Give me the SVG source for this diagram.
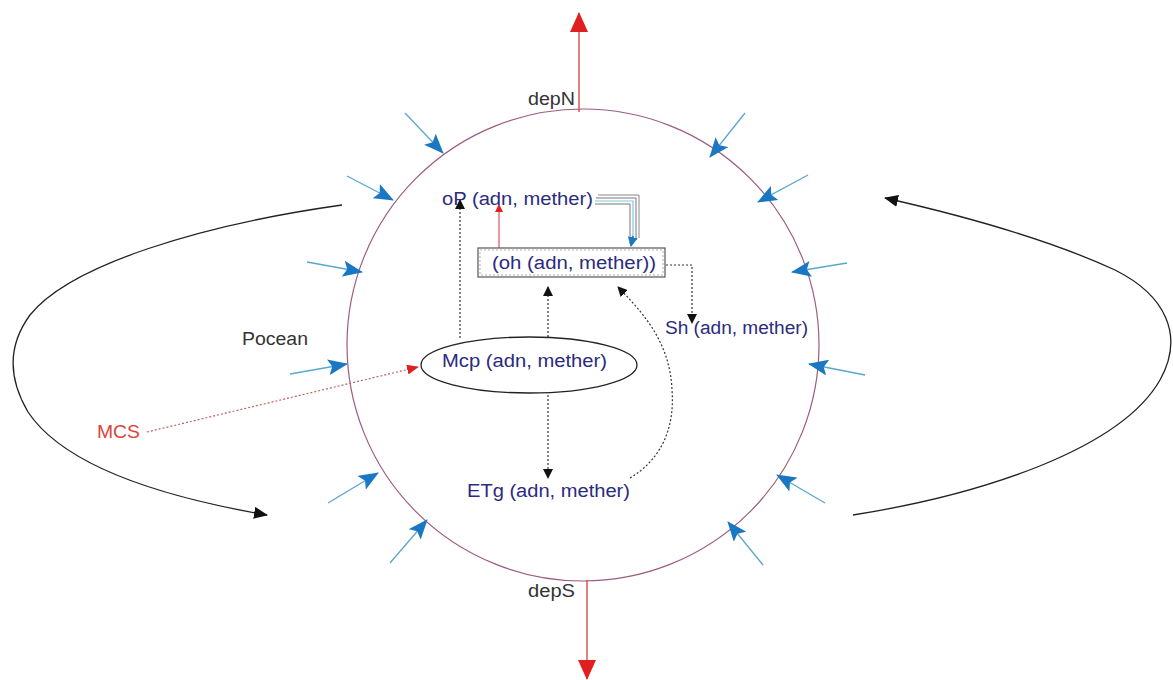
<svg xmlns="http://www.w3.org/2000/svg" width="1173" height="680" viewBox="0 0 1173 680">
<style>
text{font-family:"Liberation Sans",Arial,sans-serif;}
.lbl{fill:#2b2b80;font-size:18px;}
.dk{fill:#333;font-size:18px;}
.blue{stroke:#5aa6cc;stroke-width:1.3;fill:none;marker-end:url(#bl);}
.dot{stroke:#333;stroke-width:1.2;stroke-dasharray:2 2;fill:none;marker-end:url(#bk);}
.curve{stroke:#222;stroke-width:1.3;fill:none;marker-end:url(#bk2);}
</style>
<defs>
<marker id="bl" markerUnits="userSpaceOnUse" markerWidth="20" markerHeight="16" viewBox="0 0 20 16" refX="19" refY="8" orient="auto"><path d="M0,0 L20,8 L0,16 L4,8 z" fill="#1a78c2"/></marker>
<marker id="bk" markerUnits="userSpaceOnUse" markerWidth="10" markerHeight="10" viewBox="0 0 10 10" refX="9" refY="5" orient="auto"><path d="M0,0 L10,5 L0,10 z" fill="#111"/></marker>
<marker id="bk2" markerUnits="userSpaceOnUse" markerWidth="14" markerHeight="12" viewBox="0 0 14 12" refX="13" refY="6" orient="auto"><path d="M0,0 L14,6 L0,12 z" fill="#111"/></marker>
<marker id="rd" markerUnits="userSpaceOnUse" markerWidth="20" markerHeight="18" viewBox="0 0 20 18" refX="19" refY="9" orient="auto"><path d="M0,0 L20,9 L0,18 z" fill="#e02020"/></marker>
<marker id="rds" markerUnits="userSpaceOnUse" markerWidth="12" markerHeight="10" viewBox="0 0 12 10" refX="11" refY="5" orient="auto"><path d="M0,0 L12,5 L0,10 z" fill="#e02020"/></marker>
<marker id="rdt" markerUnits="userSpaceOnUse" markerWidth="8" markerHeight="8" viewBox="0 0 8 8" refX="7" refY="4" orient="auto"><path d="M0,0 L8,4 L0,8 z" fill="#e02020"/></marker>
<marker id="blt" markerUnits="userSpaceOnUse" markerWidth="10" markerHeight="10" viewBox="0 0 10 10" refX="9" refY="5" orient="auto"><path d="M0,0 L10,5 L0,10 z" fill="#1a78c2"/></marker>
</defs>

<g id="cell">
<circle cx="583" cy="345" r="236" fill="none" stroke="#9c5b7f" stroke-width="1.2"/>
</g>

<g id="connectors">
<path class="blue" d="M405,113 L443,153"/>
<path class="blue" d="M347,176 L393,200"/>
<path class="blue" d="M307,262 L362,272"/>
<path class="blue" d="M290,374 L347,364"/>
<path class="blue" d="M328,503 L378,473"/>
<path class="blue" d="M390,563 L427,520"/>
<path class="blue" d="M745,113 L710,157"/>
<path class="blue" d="M808,175 L758,202"/>
<path class="blue" d="M847,263 L792,272"/>
<path class="blue" d="M865,375 L809,364"/>
<path class="blue" d="M825,503 L777,475"/>
<path class="blue" d="M763,565 L728,522"/>
<path d="M579,112 L579,13" stroke="#d04040" stroke-width="1.3" fill="none" marker-end="url(#rd)"/>
<path d="M587,580 L587,679" stroke="#d04040" stroke-width="1.3" fill="none" marker-end="url(#rd)"/>
<path class="curve" d="M342,205 C200,225 70,265 30,315 C8,345 8,378 28,412 C68,472 180,500 267,515"/>
<path class="curve" d="M853,515 C980,495 1120,450 1160,380 C1185,335 1165,295 1115,270 C1050,240 960,215 885,198"/>
<path d="M147,432 L418,367" stroke="#c06060" stroke-width="1.2" stroke-dasharray="2 2" fill="none" marker-end="url(#rds)"/>
<path class="dot" d="M460,338 L460,200"/>
<path class="dot" d="M548,337 L548,287"/>
<path class="dot" d="M548,395 L548,478"/>
<path class="dot" d="M630,478 C660,460 675,430 672,390 C670,340 640,310 618,287"/>
<path class="dot" d="M666,265 L692,265 L692,323"/>
<path d="M499,248 L499,205" stroke="#e06060" stroke-width="1.3" fill="none" marker-end="url(#rdt)"/>
<path d="M595,204 L630,204 L630,244" stroke="#777" stroke-width="1" fill="none"/>
<path d="M595,201 L633,201 L633,244" stroke="#7cc8e0" stroke-width="1.2" fill="none"/>
<path d="M596,198 L636,198 L636,240" stroke="#777" stroke-width="1" fill="none"/>
<path d="M598,195 L639,195 L639,238" stroke="#888" stroke-width="1" fill="none"/>
<path d="M633,236 L631,246" stroke="#1a78c2" stroke-width="1.5" fill="none" marker-end="url(#blt)"/>
</g>

<g id="oP"><text class="lbl" x="442" y="205" textLength="151" lengthAdjust="spacingAndGlyphs">oP (adn, mether)</text></g>
<g id="oh">
<rect x="478" y="248" width="187" height="29" fill="#fff" stroke="#555" stroke-width="1.2"/>
<rect x="480" y="250" width="183" height="25" fill="none" stroke="#999" stroke-width="0.8" stroke-dasharray="2 2"/>
<text class="lbl" x="492" y="269" textLength="164" lengthAdjust="spacingAndGlyphs">(oh (adn, mether))</text>
</g>
<g id="Sh"><text class="lbl" x="665" y="334" textLength="143" lengthAdjust="spacingAndGlyphs">Sh (adn, mether)</text></g>
<g id="Mcp">
<ellipse cx="529" cy="365" rx="108" ry="28" fill="none" stroke="#222" stroke-width="1.3"/>
<text class="lbl" x="442" y="367" textLength="165" lengthAdjust="spacingAndGlyphs">Mcp (adn, mether)</text>
</g>
<g id="ETg"><text class="lbl" x="467" y="497" textLength="163" lengthAdjust="spacingAndGlyphs">ETg (adn, mether)</text></g>
<g id="Pocean"><text class="dk" x="242" y="345" textLength="66" lengthAdjust="spacingAndGlyphs">Pocean</text></g>
<g id="MCS"><text x="97" y="438" font-size="18" fill="#d9453a" textLength="43" lengthAdjust="spacingAndGlyphs">MCS</text></g>
<g id="depN"><text class="dk" x="528" y="105" textLength="47" lengthAdjust="spacingAndGlyphs">depN</text></g>
<g id="depS"><text class="dk" x="528" y="597" textLength="47" lengthAdjust="spacingAndGlyphs">depS</text></g>
</svg>
